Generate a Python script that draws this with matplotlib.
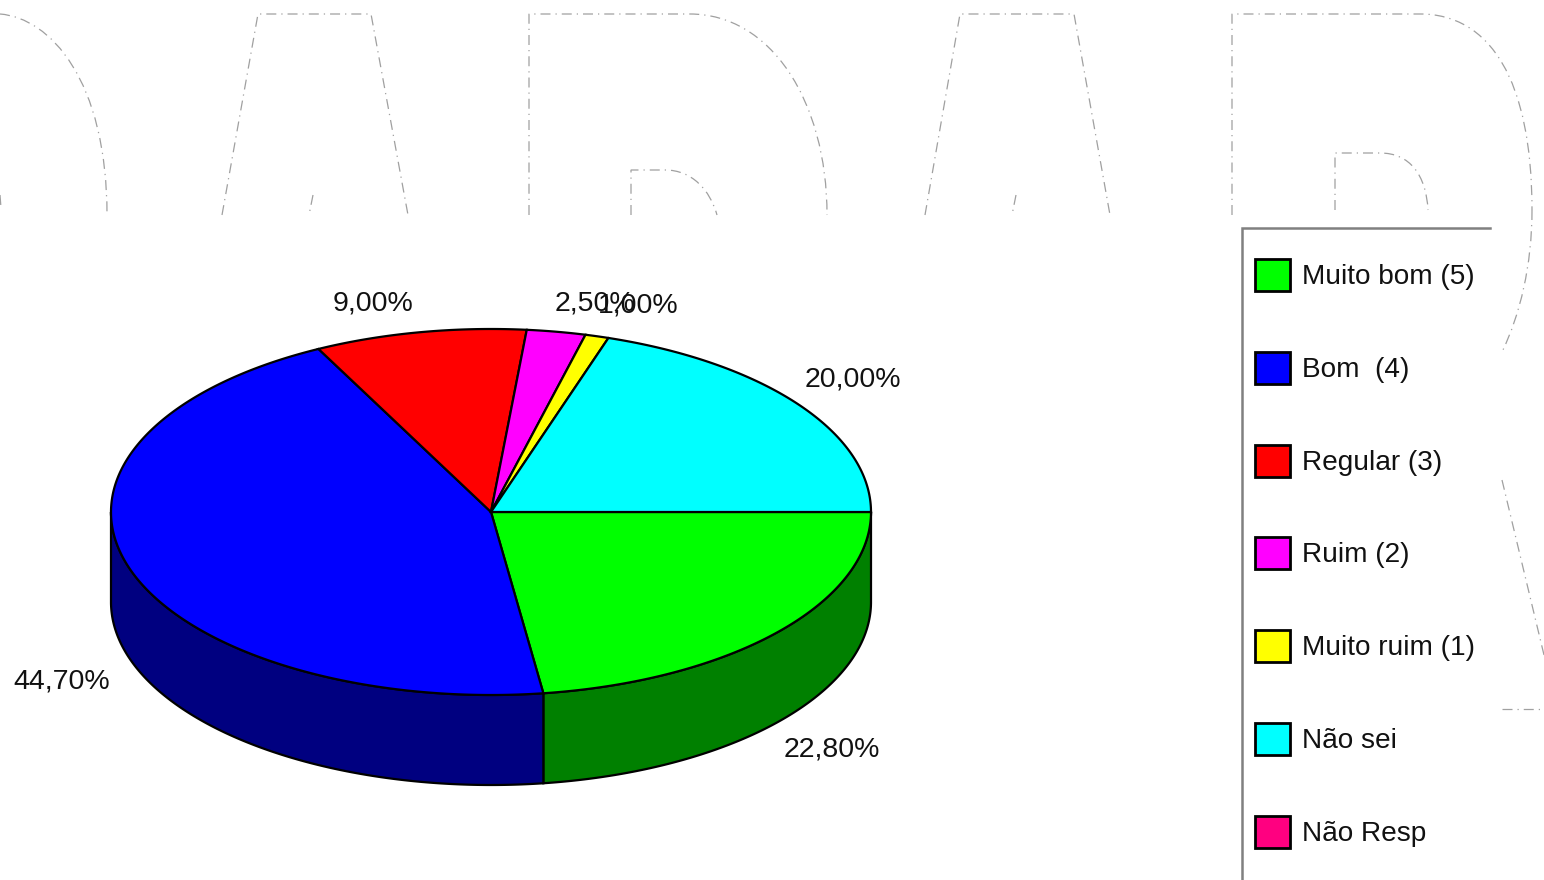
#!/usr/bin/env python3
"""Fake-3D pie with a legend box, over the dash-dot outline of a clipped watermark."""

from __future__ import annotations

import numpy as np

import matplotlib
matplotlib.use("Agg")          # headless: no display needed
import matplotlib.pyplot as plt
from matplotlib.patches import PathPatch, Polygon, Rectangle
from matplotlib.path import Path

categories = ["Muito bom (5)", "Bom  (4)", "Regular (3)", "Ruim (2)",
              "Muito ruim (1)", "Não sei", "Não Resp"]
values = [22.8, 44.7, 9.0, 2.5, 1.0, 20.0, 0.0]
colors = ["#00ff00", "#0000ff", "#ff0000", "#ff00ff", "#ffff00", "#00ffff", "#ff0080"]
side_colors = ["#008000", "#000080", "#800000", "#800080", "#808000", "#008080", "#800040"]

# pixel layout of the picture
CX, CY, RX, RY, DEPTH = 491, 512, 380, 183, 90
LABEL_XY = [(832, 750), (62, 682), (373, 303), (595, 303), (638, 305), (853, 379), None]
FONT = "Liberation Sans"

M, L, C = Path.MOVETO, Path.LINETO, Path.CURVE4
WATERMARK = [
    # left letter
    ([(0, 14), (50, 18), (107, 80), (107, 215)], [M, C, C, C]),
    ([(0, 195), (1, 208)], [M, L]),
    # first A
    ([(222, 215), (258, 14), (371, 14), (408, 215)], [M, L, L, L]),
    ([(313, 195), (309, 215)], [M, L]),
    # D
    ([(529, 215), (529, 14), (690, 14), (770, 14), (827, 100), (827, 215)], [M, L, L, C, C, C]),
    ([(631, 215), (631, 170), (665, 170), (692, 170), (710, 190), (717, 215)], [M, L, L, C, C, C]),
    # second A
    ([(925, 215), (960, 14), (1074, 14), (1110, 215)], [M, L, L, L]),
    ([(1016, 195), (1012, 215)], [M, L]),
    # R
    ([(1232, 215), (1232, 14), (1420, 14), (1490, 14), (1532, 80), (1532, 210)], [M, L, L, C, C, C]),
    ([(1532, 210), (1532, 265), (1520, 315), (1502, 352)], [M, C, C, C]),
    ([(1335, 210), (1335, 153), (1380, 153), (1410, 153), (1426, 175), (1428, 210)], [M, L, L, C, C, C]),
    ([(1502, 480), (1544, 655)], [M, L]),
    ([(1502, 709), (1544, 709)], [M, L]),
]


def ellipse_pts(t0: float, t1: float, dy: float = 0.0) -> np.ndarray:
    t = np.linspace(t0, t1, max(int(abs(t1 - t0) * 120), 2))
    return np.column_stack([CX + RX * np.cos(t), CY + dy + RY * np.sin(t)])


def draw_pie(ax) -> None:
    fracs = np.array(values) / sum(values)
    edges = np.concatenate([[0], np.cumsum(fracs)]) * 2 * np.pi
    # side wall first: only the part facing the viewer, below the centre line
    for t0, t1, col in zip(edges[:-1], edges[1:], side_colors):
        a, b = max(t0, 0), min(t1, np.pi)
        if b <= a:
            continue
        pts = np.vstack([ellipse_pts(a, b), ellipse_pts(b, a, DEPTH)])
        ax.add_patch(Polygon(pts, closed=True, fc=col, ec="black", lw=1.6, zorder=2))
    for t0, t1, col in zip(edges[:-1], edges[1:], colors):
        if t1 <= t0:
            continue
        pts = np.vstack([[(CX, CY)], ellipse_pts(t0, t1)])
        ax.add_patch(Polygon(pts, closed=True, fc=col, ec="black", lw=1.6, zorder=3))


fig = plt.figure(figsize=(15.44, 8.8), dpi=100)
ax = fig.add_axes([0, 0, 1, 1])
ax.set_xlim(0, 1544)
ax.set_ylim(880, 0)
ax.axis("off")

for verts, codes in WATERMARK:
    ax.add_patch(PathPatch(Path(verts, codes), fc="none", ec="#a0a0a0", lw=0.9,
                           ls=(0, (8, 4, 1, 4)), zorder=1))

draw_pie(ax)

for xy, v in zip(LABEL_XY, values):
    if xy is None:
        continue
    ax.text(xy[0], xy[1], f"{v:.2f}%".replace(".", ","), ha="center", va="center",
            fontsize=20.5, family=FONT, color="#111111", zorder=4)

# legend box: only the top and left edges are inside the picture
ax.plot([1490, 1241.5, 1241.5], [228.5, 228.5, 880], color="#808080", lw=1.8,
        solid_joinstyle="miter", zorder=4)
for i, (name, col) in enumerate(zip(categories, colors)):
    y = 275 + i * 92.8
    ax.add_patch(Rectangle((1254.5, y - 16), 35, 32, fc=col, ec="black", lw=2, zorder=4))
    ax.text(1302, y + 2, name, ha="left", va="center", fontsize=20.2, family=FONT,
            color="#111111", zorder=4)

fig.savefig("out.png", dpi=100, facecolor="white")
plt.close(fig)
